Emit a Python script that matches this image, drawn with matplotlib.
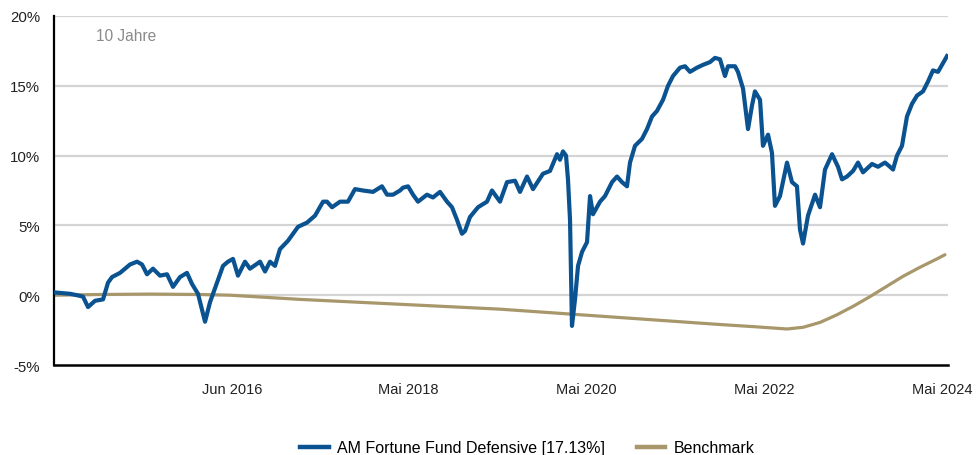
import matplotlib
matplotlib.use("Agg")
import matplotlib.pyplot as plt
from matplotlib.lines import Line2D

# ---- data (x as decimal years) ----
fund_t = [2014.410, 2014.500, 2014.590, 2014.668, 2014.736, 2014.792, 2014.871, 2014.961,
          2015.017, 2015.062, 2015.152, 2015.264, 2015.343, 2015.399, 2015.455, 2015.522,
          2015.601, 2015.680, 2015.747, 2015.826, 2015.904, 2015.961, 2016.028, 2016.107,
          2016.163, 2016.241, 2016.309, 2016.365, 2016.421, 2016.477, 2016.556, 2016.612,
          2016.725, 2016.781, 2016.837, 2016.893, 2016.949, 2017.039, 2017.152, 2017.253,
          2017.343, 2017.433, 2017.477, 2017.534, 2017.624, 2017.713, 2017.792, 2017.882,
          2017.994, 2018.095, 2018.152, 2018.219, 2018.298, 2018.331, 2018.388, 2018.444,
          2018.500, 2018.601, 2018.668, 2018.747, 2018.826, 2018.882, 2018.938, 2018.994,
          2019.028, 2019.084, 2019.174, 2019.275, 2019.331, 2019.421, 2019.500, 2019.590,
          2019.646, 2019.725, 2019.792, 2019.904, 2019.983, 2020.062, 2020.095, 2020.129,
          2020.163, 2020.185, 2020.208, 2020.230, 2020.264, 2020.298, 2020.343, 2020.399,
          2020.433, 2020.466, 2020.545, 2020.601, 2020.680, 2020.736, 2020.792, 2020.848,
          2020.882, 2020.938, 2021.017, 2021.073, 2021.129, 2021.185, 2021.253, 2021.309,
          2021.365, 2021.444, 2021.500, 2021.556, 2021.635, 2021.702, 2021.781, 2021.837,
          2021.893, 2021.949, 2021.983, 2022.062, 2022.095, 2022.152, 2022.208, 2022.253,
          2022.286, 2022.343, 2022.376, 2022.433, 2022.477, 2022.511, 2022.567, 2022.646,
          2022.702, 2022.758, 2022.792, 2022.826, 2022.882, 2022.961, 2023.017, 2023.073,
          2023.152, 2023.219, 2023.264, 2023.320, 2023.388, 2023.444, 2023.500, 2023.601,
          2023.668, 2023.747, 2023.803, 2023.837, 2023.882, 2023.938, 2023.994, 2024.050,
          2024.107, 2024.174, 2024.230, 2024.286, 2024.343, 2024.388, 2024.444]
fund_v = [0.2, 0.15, 0.1, 0.0, -0.1, -0.85, -0.4, -0.3,
          0.9, 1.3, 1.6, 2.2, 2.4, 2.2, 1.5, 1.9,
          1.4, 1.5, 0.6, 1.3, 1.6, 0.8, 0.1, -1.9,
          -0.5, 0.9, 2.1, 2.4, 2.6, 1.4, 2.4, 1.9,
          2.4, 1.7, 2.4, 2.1, 3.3, 3.9, 4.9, 5.2,
          5.7, 6.7, 6.7, 6.3, 6.7, 6.7, 7.6, 7.5,
          7.4, 7.8, 7.2, 7.2, 7.5, 7.7, 7.8, 7.2,
          6.7, 7.2, 7.0, 7.4, 6.7, 6.3, 5.4, 4.4,
          4.6, 5.6, 6.3, 6.7, 7.5, 6.7, 8.1, 8.2,
          7.4, 8.5, 7.6, 8.7, 8.9, 10.1, 9.7, 10.3,
          10.0, 8.3, 5.4, -2.2, -0.3, 2.1, 3.1, 3.8,
          7.1, 5.8, 6.7, 7.1, 8.1, 8.5, 8.1, 7.8,
          9.5, 10.7, 11.2, 11.9, 12.8, 13.2, 14.0, 15.0,
          15.7, 16.3, 16.4, 16.0, 16.3, 16.5, 16.7, 17.0,
          16.9, 15.7, 16.4, 16.4, 16.0, 14.8, 11.9, 13.6,
          14.6, 14.0, 10.7, 11.5, 10.2, 6.4, 7.1, 9.5,
          8.1, 7.8, 4.7, 3.7, 5.7, 7.2, 6.3, 9.0,
          10.1, 9.2, 8.3, 8.5, 8.9, 9.5, 8.8, 9.4,
          9.2, 9.5, 9.2, 9.0, 10.0, 10.7, 12.8, 13.7,
          14.3, 14.6, 15.3, 16.1, 16.0, 16.5, 17.13]

bench_t = [2014.410, 2014.927, 2015.489, 2016.050, 2016.388, 2017.174, 2018.298, 2019.421,
           2020.208, 2021.107, 2021.893, 2022.264, 2022.646, 2022.826, 2023.017, 2023.208,
           2023.388, 2023.579, 2023.770, 2023.949, 2024.140, 2024.331, 2024.421]
bench_v = [0.0, 0.05, 0.08, 0.05, 0.0, -0.3, -0.65, -1.0,
           -1.35, -1.75, -2.1, -2.25, -2.42, -2.3, -1.95, -1.4,
           -0.8, -0.1, 0.65, 1.35, 2.0, 2.6, 2.9]

xtick_t = [2016.41, 2018.39, 2020.39, 2022.39, 2024.39]
xtick_labels = ["Jun 2016", "Mai 2018", "Mai 2020", "Mai 2022", "Mai 2024"]
ytick_vals = [-5, 0, 5, 10, 15, 20]
ytick_labels = ["-5%", "0%", "5%", "10%", "15%", "20%"]
fund_label = "AM Fortune Fund Defensive [17.13%]"
bench_label = "Benchmark"
period_label = "10 Jahre"

FUND_C = "#0a5290"
BENCH_C = "#a8976a"
plt.rcParams["font.family"] = ["Liberation Sans", "DejaVu Sans"]

fig = plt.figure(figsize=(9.77, 4.56), dpi=100)
ax = fig.add_axes([54/977, 1-366/456, (948-54)/977, (366-17)/456])

ax.set_xlim(2014.41, 2024.455)
ax.set_ylim(-5, 20)

for v in ytick_vals[1:]:
    ax.axhline(v, color="#d4d4d4", lw=1.6, zorder=0)

ax.plot(bench_t, bench_v, color=BENCH_C, lw=2.3, zorder=2, solid_capstyle="round")
ax.plot(fund_t, fund_v, color=FUND_C, lw=3.0, zorder=3, solid_joinstyle="round")

for s in ["top", "right"]:
    ax.spines[s].set_visible(False)
ax.spines["left"].set_linewidth(1.6)
ax.spines["bottom"].set_linewidth(1.8)
ax.spines["left"].set_color("black")
ax.spines["bottom"].set_color("black")

ax.set_yticks(ytick_vals)
ax.set_yticklabels(ytick_labels, fontsize=10.8, color="#222222")
ax.set_xticks(xtick_t)
ax.set_xticklabels(xtick_labels, fontsize=10.5, color="#222222")
ax.tick_params(axis="both", length=0)
ax.tick_params(axis="y", pad=10)
ax.tick_params(axis="x", pad=12)

ax.text(0.047, 0.945, period_label, transform=ax.transAxes, fontsize=11.2,
        color="#8a8a8a", va="center", ha="left")

handles = [Line2D([0], [0], color=FUND_C, lw=3.2),
           Line2D([0], [0], color=BENCH_C, lw=3.2)]
fig.legend(handles, [fund_label, bench_label], loc="center",
           bbox_to_anchor=(527/977, 1-449/456), ncol=2, frameon=False,
           prop={"size": 11.5}, handlelength=1.8,
           columnspacing=2.0, handletextpad=0.5)

fig.savefig("out.png", dpi=100)
